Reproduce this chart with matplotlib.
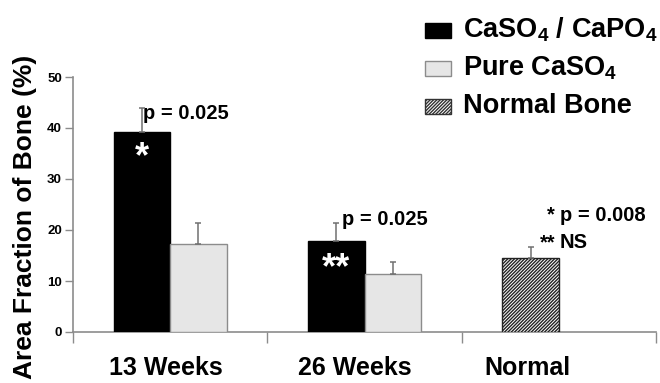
import matplotlib
matplotlib.use("Agg")
import matplotlib.pyplot as plt
from matplotlib.patches import Rectangle
import numpy as np

# ---- data ----
categories = ["13 Weeks", "26 Weeks", "Normal"]
composite_mean = [39.2, 17.9]      # CaSO4 / CaPO4
composite_err = [4.7, 3.4]
pure_mean = [17.2, 11.4]           # Pure CaSO4
pure_err = [4.2, 2.4]
normal_mean = [14.5]               # Normal Bone
normal_err = [2.2]
yticks = [0, 10, 20, 30, 40, 50]
legend_labels = ["CaSO$_4$ / CaPO$_4$", "Pure CaSO$_4$", "Normal Bone"]

plt.rcParams['font.family'] = ['Liberation Sans', 'DejaVu Sans']
plt.rcParams['font.weight'] = 'bold'
plt.rcParams['mathtext.fontset'] = 'custom'
plt.rcParams['mathtext.rm'] = 'Liberation Sans:bold'
plt.rcParams['mathtext.it'] = 'Liberation Sans:bold'
plt.rcParams['mathtext.bf'] = 'Liberation Sans:bold'
plt.rcParams['hatch.linewidth'] = 1.0

W, H = 660, 383
fig = plt.figure(figsize=(W / 100, H / 100), dpi=100)
ax = fig.add_axes([73 / W, 1 - 332 / H, (656 - 73) / W, (332 - 77) / H])

bw = 0.29
axis_grey = "#8c8c8c"
err_grey = "#707070"
ekw = dict(ecolor=err_grey, elinewidth=1.1, capsize=2.5, capthick=1.1)

x_comp = np.arange(len(composite_mean)) - bw / 2
x_pure = np.arange(len(pure_mean)) + bw / 2
x_norm = np.array([2]) - bw / 2

ax.bar(x_comp, composite_mean, width=bw, color="black", edgecolor="black",
       linewidth=1, yerr=[np.zeros(len(composite_err)), composite_err], error_kw=ekw, zorder=3)
ax.bar(x_pure, pure_mean, width=bw, color="#e6e6e6", edgecolor=axis_grey,
       linewidth=1, yerr=[np.zeros(len(pure_err)), pure_err], error_kw=ekw, zorder=3)
ax.bar(x_norm, normal_mean, width=bw, color="white", edgecolor="#222222", hatch="//////////",
       linewidth=1, yerr=[np.zeros(len(normal_err)), normal_err], error_kw=ekw, zorder=3)

ax.set_xlim(-0.5, 2.5)
ax.set_ylim(0, 50)
ax.set_yticks(yticks)
ax.set_yticklabels([str(t) for t in yticks], fontsize=9.5, fontweight='bold')
ax.tick_params(axis='y', direction='out', length=6, width=1, color=axis_grey, pad=2)

# category labels (slightly shifted as in the original)
ax.set_xticks([-0.021, 0.951, 1.837])
ax.set_xticklabels(categories, fontsize=18, fontweight='bold')
ax.tick_params(axis='x', which='major', length=0, pad=17)
ax.set_xticks([-0.5, 0.5, 1.5, 2.5], minor=True)
ax.tick_params(axis='x', which='minor', direction='out', length=8, width=1, color=axis_grey)

for s in ['top', 'right']:
    ax.spines[s].set_visible(False)
for s in ['left', 'bottom']:
    ax.spines[s].set_color(axis_grey)
    ax.spines[s].set_linewidth(1.2)

ax.set_ylabel("Area Fraction of Bone (%)", fontsize=19, fontweight='bold')
ax.yaxis.set_label_coords(-0.061, 0.45)

# annotations
ax.text(-0.14, 41.7, "p = 0.025", fontsize=14.5, fontweight='bold', ha='left', va='baseline')
ax.text(0.884, 21.0, "p = 0.025", fontsize=14.5, fontweight='bold', ha='left', va='baseline')
ax.text(1.981, 21.8, "*", fontsize=14.5, fontweight='bold', ha='right', va='baseline')
ax.text(2.006, 21.8, "p = 0.008", fontsize=14.5, fontweight='bold', ha='left', va='baseline')
ax.text(1.981, 16.4, "**", fontsize=14.5, fontweight='bold', ha='right', va='baseline')
ax.text(2.006, 16.4, "NS", fontsize=14.5, fontweight='bold', ha='left', va='baseline')
ax.text(x_comp[0], 37.6, "*", fontsize=26, fontweight='bold', color='white', ha='center', va='top', zorder=5)
ax.text(x_comp[1], 15.8, "**", fontsize=26, fontweight='bold', color='white', ha='center', va='top', zorder=5)

# legend (manual, figure pixel coordinates)
styles = [dict(facecolor="black", edgecolor="black"),
          dict(facecolor="#e6e6e6", edgecolor=axis_grey),
          dict(facecolor="white", edgecolor="#333333", hatch="//////////")]
box_top = [23, 61, 99]
baselines = [37.5, 75, 113]
for lab, st, bt, bl in zip(legend_labels, styles, box_top, baselines):
    r = Rectangle((425 / W, 1 - (bt + 15) / H), 26 / W, 15 / H, transform=fig.transFigure,
                  linewidth=1, **st)
    fig.add_artist(r)
    fig.text(463 / W, 1 - bl / H, lab, fontsize=19.5, fontweight='bold', ha='left', va='baseline')

fig.savefig("out.png", dpi=100)
